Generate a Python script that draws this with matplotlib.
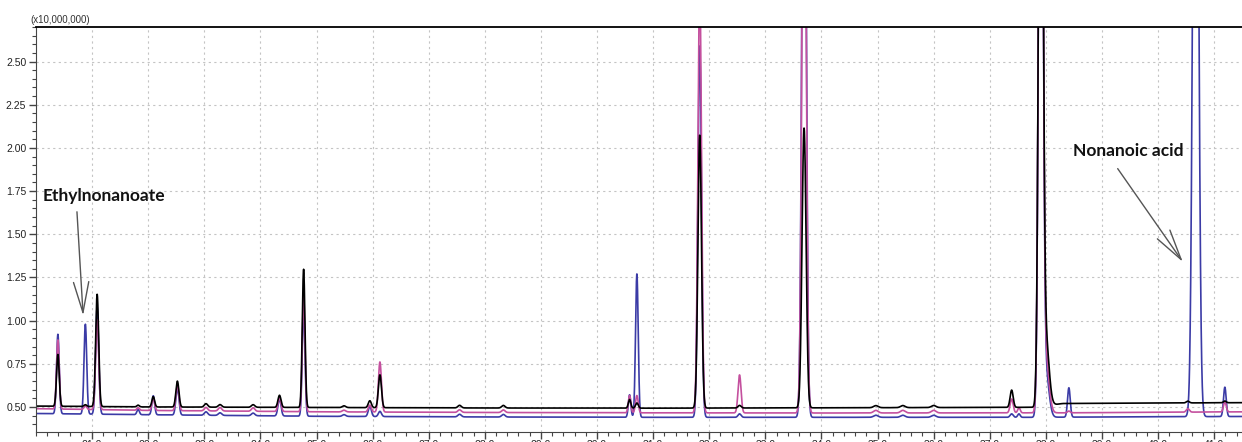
import numpy as np
import matplotlib.pyplot as plt
from matplotlib.ticker import MultipleLocator, FixedLocator

# Chromatogram overlay, three runs (black, magenta, blue), intensity x10,000,000

# baseline knots (retention time, min) and level per run
base_t = [20.0, 22.0, 25.0, 28.0, 31.0, 34.0, 37.8, 38.3, 41.6]
base_black = [0.505, 0.500, 0.497, 0.494, 0.493, 0.495, 0.498, 0.520, 0.525]
base_magenta = [0.490, 0.480, 0.472, 0.468, 0.466, 0.465, 0.466, 0.466, 0.472]
base_blue = [0.462, 0.455, 0.446, 0.442, 0.440, 0.440, 0.440, 0.441, 0.445]

# peak table: retention time, width, and height above baseline for each run
peak_t = [20.39, 20.88, 21.09, 21.82, 22.09, 22.52, 23.03, 23.28, 23.87, 24.34,
          24.77, 25.49, 25.95, 26.13, 27.55, 28.33, 30.58, 30.71, 31.83, 32.54,
          33.69, 34.97, 35.45, 36.00, 37.39, 37.52, 37.91, 38.00, 38.41, 40.53,
          40.67, 41.19]
peak_w = [0.024, 0.024, 0.027, 0.022, 0.024, 0.027, 0.030, 0.030, 0.030, 0.027,
          0.024, 0.030, 0.027, 0.027, 0.030, 0.030, 0.022, 0.024, 0.032, 0.027,
          0.036, 0.040, 0.040, 0.040, 0.027, 0.022, 0.036, 0.055, 0.024, 0.027,
          0.045, 0.024]
peak_black = [0.30, 0.01, 0.65, 0.01, 0.06, 0.15, 0.02, 0.015, 0.015, 0.07,
              0.80, 0.01, 0.04, 0.19, 0.015, 0.015, 0.05, 0.03, 1.58, 0.015,
              1.62, 0.012, 0.012, 0.012, 0.10, 0.00, 5.0, 0.38, 0.00, 0.01,
              0.00, 0.01]
peak_magenta = [0.40, 0.02, 0.52, 0.015, 0.07, 0.15, 0.02, 0.02, 0.02, 0.08,
                0.68, 0.01, 0.04, 0.29, 0.015, 0.015, 0.10, 0.10, 2.50, 0.22,
                4.00, 0.015, 0.015, 0.015, 0.08, 0.03, 5.0, 0.30, 0.01, 0.02,
                0.00, 0.06]
peak_blue = [0.46, 0.52, 0.62, 0.03, 0.11, 0.16, 0.02, 0.015, 0.015, 0.10,
             0.63, 0.01, 0.06, 0.03, 0.015, 0.015, 0.13, 0.83, 2.15, 0.02,
             4.50, 0.012, 0.012, 0.012, 0.02, 0.02, 5.0, 0.25, 0.17, 0.00,
             5.50, 0.17]

# labelled x ticks (the 20.0 position sits on the left axis and has no label)
xtick_vals = [21.0, 22.0, 23.0, 24.0, 25.0, 26.0, 27.0, 28.0, 29.0, 30.0, 31.0,
              32.0, 33.0, 34.0, 35.0, 36.0, 37.0, 38.0, 39.0, 40.0, 41.0]

t = np.arange(20.0, 41.6, 0.002)


def trace(base, heights):
    y = np.interp(t, base_t, base)
    for pt, pw, ph in zip(peak_t, peak_w, heights):
        y = y + ph * np.exp(-0.5 * ((t - pt) / pw) ** 2)
    return y


fig = plt.figure(figsize=(12.42, 4.42), dpi=100)
ax = fig.add_axes([36 / 1242, 1 - 432 / 442, 1 - 36 / 1242 + 0.002, (432 - 27) / 442])

ax.plot(t, trace(base_blue, peak_blue), color='#3b3ba6', lw=1.2)
ax.plot(t, trace(base_magenta, peak_magenta), color='#c4509e', lw=1.2)
ax.plot(t, trace(base_black, peak_black), color='#000000', lw=1.2)

ax.set_xlim(20.0, 41.54)
ax.set_ylim(0.355, 2.70)
ax.xaxis.set_major_locator(FixedLocator(xtick_vals))
ax.xaxis.set_minor_locator(MultipleLocator(0.2))
ax.yaxis.set_major_locator(MultipleLocator(0.25))
ax.yaxis.set_minor_locator(MultipleLocator(0.05))
ax.xaxis.set_major_formatter(plt.FormatStrFormatter('%.1f'))
ax.yaxis.set_major_formatter(plt.FormatStrFormatter('%.2f'))
ax.grid(True, which='major', color='#c4c4c4', lw=0.8, ls=(0, (2, 3)))
ax.tick_params(which='major', length=5, width=1, color='#444444', labelsize=7.5,
               labelcolor='#222222', pad=2)
ax.tick_params(axis='x', which='major', pad=0.5)
ax.tick_params(which='minor', length=3, width=0.8, color='#444444')
for lab in ax.get_xticklabels() + ax.get_yticklabels():
    lab.set_family('Liberation Sans')
ax.spines['right'].set_visible(False)
ax.spines['top'].set_linewidth(1.3)
ax.spines['left'].set_color('#444444')
ax.spines['bottom'].set_color('#444444')

fig.text(30 / 1242, 1 - 20 / 442, '(x10,000,000)', fontsize=7, family='Liberation Sans',
         color='#333333', va='center', ha='left')

arrow = dict(arrowstyle='->,head_length=2.2,head_width=0.55', mutation_scale=10,
             color='#555555', lw=1.0, shrinkA=0, shrinkB=0)
ax.annotate('', xy=(20.84, 1.03), xytext=(20.73, 1.63), arrowprops=arrow)
ax.text(20.11, 1.72, 'Ethylnonanoate', fontsize=12.5, fontweight='bold', family='Lato',
        va='center', ha='left', color='#111111')
ax.annotate('', xy=(40.44, 1.34), xytext=(39.28, 1.88), arrowprops=arrow)
ax.text(38.48, 1.98, 'Nonanoic acid', fontsize=12.5, fontweight='bold', family='Lato',
        va='center', ha='left', color='#111111')

fig.savefig('out.png', dpi=100)
